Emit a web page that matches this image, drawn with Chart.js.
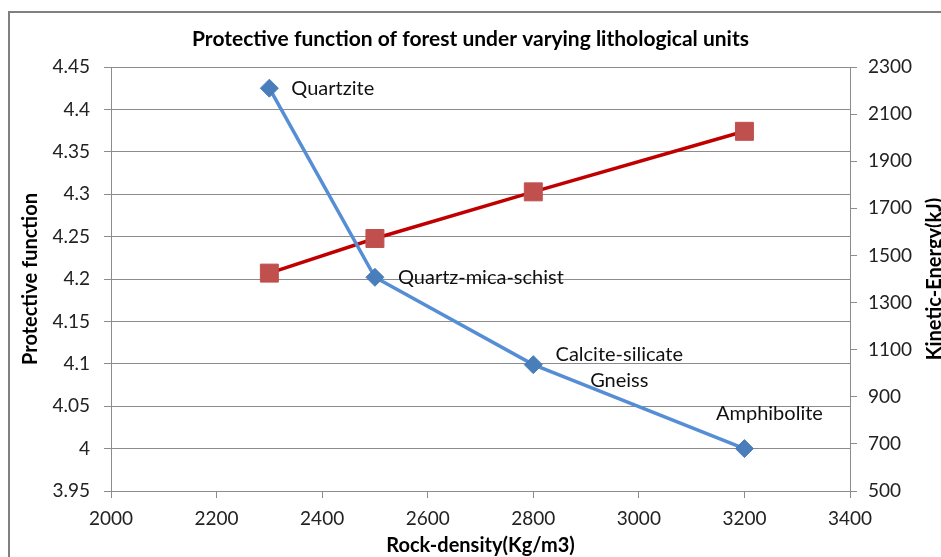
<!DOCTYPE html>
<html>
<head>
<meta charset="utf-8">
<script src="https://cdn.jsdelivr.net/npm/chart.js@4"></script>
<style>
  html, body { margin: 0; padding: 0; background: #fff; }
  #wrap { width: 941px; height: 557px; position: relative; }
</style>
</head>
<body>
<div id="wrap"><canvas id="chart" width="941" height="557"></canvas></div>
<script>
// Data
const rockDensity = [2300, 2500, 2800, 3200];
const protectiveFunction = [4.425, 4.202, 4.099, 4.0];
const kineticEnergy = [1425, 1572, 1770, 2027];
const rockLabels = ['Quartzite', 'Quartz-mica-schist', ['Calcite-silicate', 'Gneiss'], 'Amphibolite'];

// Tick labels
const xTicks = [2000, 2200, 2400, 2600, 2800, 3000, 3200, 3400];
const leftTicks = [3.95, 4, 4.05, 4.1, 4.15, 4.2, 4.25, 4.3, 4.35, 4.4, 4.45];
const rightTicks = [500, 700, 900, 1100, 1300, 1500, 1700, 1900, 2100, 2300];

const FONT = 'Lato, "Liberation Sans", sans-serif';
const gridGray = '#8c8c8c';

// label placement relative to each point
const labelStyle = [
  { dx: 22, dy: 0, align: 'left' },
  { dx: 23, dy: 0, align: 'left' },
  { dx: 86, dy: -10, align: 'center' },
  { dx: 25, dy: -35, align: 'center' }
];

const pointLabels = {
  id: 'pointLabels',
  afterDatasetsDraw(chart) {
    const meta = chart.getDatasetMeta(0);
    const ctx = chart.ctx;
    ctx.save();
    ctx.font = '20px ' + FONT;
    ctx.fillStyle = '#111';
    ctx.textBaseline = 'middle';
    meta.data.forEach((pt, i) => {
      const st = labelStyle[i];
      const lines = [].concat(rockLabels[i]);
      ctx.textAlign = st.align;
      lines.forEach((t, j) => ctx.fillText(t, pt.x + st.dx, pt.y + st.dy + j * 26));
    });
    ctx.restore();
  }
};

const frame = {
  id: 'frame',
  beforeDraw(chart) {
    const ctx = chart.ctx;
    ctx.save();
    ctx.fillStyle = '#fff';
    ctx.fillRect(0, 0, chart.width, chart.height);
    ctx.strokeStyle = '#808080';
    ctx.lineWidth = 2;
    ctx.beginPath();
    ctx.moveTo(9, chart.height);
    ctx.lineTo(9, 12);
    ctx.lineTo(chart.width, 12);
    ctx.stroke();
    ctx.restore();
  },
  afterDraw(chart) {
    // right axis title reads bottom to top
    const ctx = chart.ctx;
    const area = chart.chartArea;
    ctx.save();
    ctx.translate(935, (area.top + area.bottom) / 2);
    ctx.rotate(-Math.PI / 2);
    ctx.font = 'bold 20px ' + FONT;
    ctx.fillStyle = '#000';
    ctx.textAlign = 'center';
    ctx.textBaseline = 'middle';
    ctx.fillText('Kinetic-Energy(kJ)', 0, 0);
    ctx.restore();
  }
};

new Chart(document.getElementById('chart'), {
  type: 'line',
  data: {
    datasets: [
      {
        label: 'Protective function',
        data: rockDensity.map((x, i) => ({ x, y: protectiveFunction[i] })),
        yAxisID: 'y',
        borderColor: '#558ed5',
        borderWidth: 3.5,
        pointStyle: 'rectRot',
        pointRadius: 9,
        pointBackgroundColor: '#4a7ebb',
        pointBorderColor: '#4a7ebb',
        pointBorderWidth: 1,
        tension: 0
      },
      {
        label: 'Kinetic-Energy',
        data: rockDensity.map((x, i) => ({ x, y: kineticEnergy[i] })),
        yAxisID: 'y2',
        borderColor: '#c00000',
        borderWidth: 3.5,
        pointStyle: 'rect',
        pointRadius: 12.7,
        pointBackgroundColor: '#c0504d',
        pointBorderColor: '#c0504d',
        pointBorderWidth: 1,
        tension: 0
      }
    ]
  },
  options: {
    responsive: false,
    animation: false,
    layout: { padding: 0 },
    plugins: {
      legend: { display: false },
      tooltip: { enabled: false },
      title: {
        display: true,
        text: 'Protective function of forest under varying lithological units',
        color: '#000',
        font: { family: FONT, size: 21, weight: 'bold', lineHeight: 1.2 },
        padding: { top: 27, bottom: 14.8 }
      }
    },
    scales: {
      x: {
        type: 'linear',
        min: 2000,
        max: 3400,
        afterBuildTicks: s => { s.ticks = xTicks.map(v => ({ value: v })); },
        afterFit: s => { s.height = 66; },
        grid: { drawOnChartArea: false, drawTicks: true, tickLength: 7, color: gridGray },
        border: { color: gridGray, width: 1 },
        ticks: {
          color: '#222',
          font: { family: FONT, size: 19 },
          padding: 9,
          maxRotation: 0,
          callback: v => String(v)
        },
        title: {
          display: true,
          text: 'Rock-density(Kg/m3)',
          color: '#000',
          font: { family: FONT, size: 20, weight: 'bold', lineHeight: 1.0 },
          padding: { top: 0, bottom: 1 }
        }
      },
      y: {
        position: 'left',
        min: 3.95,
        max: 4.45,
        afterBuildTicks: s => { s.ticks = leftTicks.map(v => ({ value: v })); },
        afterFit: s => { s.width = 111; },
        grid: { drawOnChartArea: true, drawTicks: true, tickLength: 7, color: gridGray },
        border: { color: gridGray, width: 1 },
        ticks: {
          color: '#222',
          font: { family: FONT, size: 19 },
          padding: 14,
          callback: v => String(v)
        },
        title: {
          display: true,
          text: 'Protective function',
          color: '#000',
          font: { family: FONT, size: 20, weight: 'bold', lineHeight: 1.2 },
          padding: { top: 19, bottom: 0 }
        }
      },
      y2: {
        position: 'right',
        min: 500,
        max: 2300,
        afterBuildTicks: s => { s.ticks = rightTicks.map(v => ({ value: v })); },
        afterFit: s => { s.width = 91; },
        grid: { drawOnChartArea: false, drawTicks: true, tickLength: 7, color: gridGray },
        border: { color: gridGray, width: 1 },
        ticks: {
          color: '#222',
          font: { family: FONT, size: 19 },
          padding: 11,
          callback: v => String(v)
        }
      }
    }
  },
  plugins: [frame, pointLabels]
});
</script>
</body>
</html>
